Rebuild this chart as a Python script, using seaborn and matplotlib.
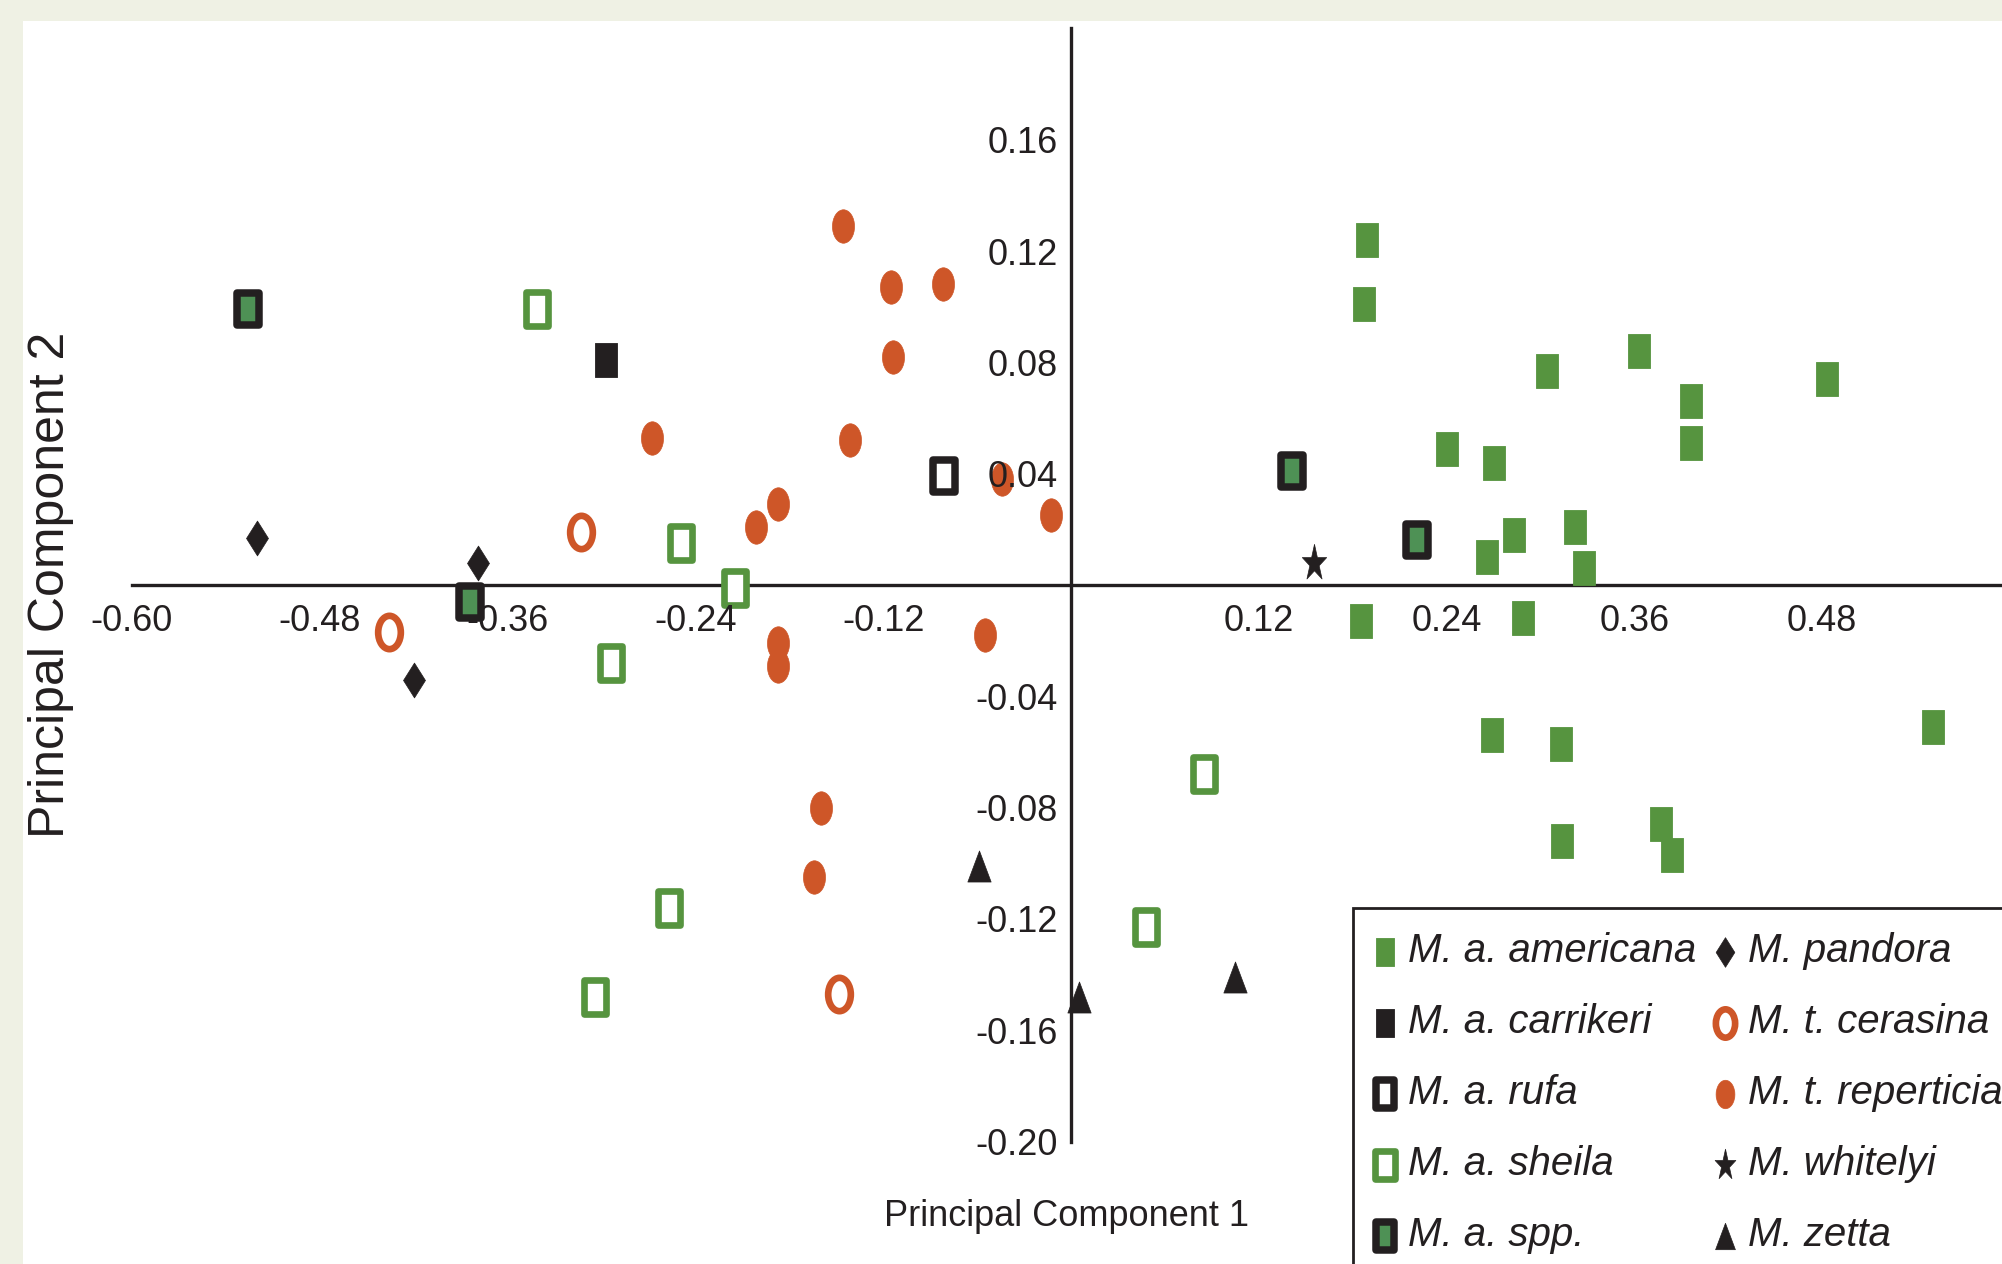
import numpy as np
import matplotlib
matplotlib.use("Agg")
import matplotlib.pyplot as plt
import seaborn as sns
from matplotlib.path import Path
from matplotlib.transforms import Affine2D
from matplotlib.patches import Rectangle
from matplotlib.font_manager import FontProperties

# -------------------------------
# PCA scores
# -------------------------------
americana_x = [0.189, 0.187, 0.304, 0.363, 0.396, 0.396, 0.483, 0.240, 0.270, 0.283, 0.322,
               0.266, 0.328, 0.185, 0.289, 0.269, 0.313, 0.314, 0.377, 0.384, 0.551]
americana_y = [0.124, 0.101, 0.077, 0.084, 0.066, 0.051, 0.074, 0.049, 0.044, 0.018, 0.021,
               0.010, 0.006, -0.013, -0.012, -0.054, -0.057, -0.092, -0.086, -0.097, -0.051]
carrikeri_x = [-0.297]
carrikeri_y = [0.081]
rufa_x = [-0.081]
rufa_y = [0.039]
sheila_x = [-0.341, -0.249, -0.215, -0.294, -0.257, -0.304, 0.085, 0.048]
sheila_y = [0.099, 0.015, -0.001, -0.028, -0.116, -0.148, -0.068, -0.123]
spp_x = [-0.526, -0.384, 0.141, 0.221]
spp_y = [0.099, -0.006, 0.041, 0.016]
pandora_x = [-0.520, -0.379, -0.420]
pandora_y = [0.017, 0.008, -0.034]
cerasina_x = [-0.313, -0.436, -0.148]
cerasina_y = [0.019, -0.017, -0.147]
reperticia_x = [-0.146, -0.115, -0.082, -0.114, -0.141, -0.187, -0.201, -0.044,
                -0.013, -0.187, -0.187, -0.055, -0.268, -0.160, -0.164]
reperticia_y = [0.129, 0.107, 0.108, 0.082, 0.052, 0.029, 0.021, 0.038,
                0.025, -0.021, -0.029, -0.018, 0.053, -0.080, -0.105]
whitelyi_x = [0.155]
whitelyi_y = [0.008]
zetta_x = [-0.059, 0.005, 0.105]
zetta_y = [-0.101, -0.148, -0.141]

x_ticks = [-0.60, -0.48, -0.36, -0.24, -0.12, 0.12, 0.24, 0.36, 0.48]
x_tick_labels = ["-0.60", "-0.48", "-0.36", "-0.24", "-0.12", "0.12", "0.24", "0.36", "0.48"]
y_ticks = [-0.20, -0.16, -0.12, -0.08, -0.04, 0.04, 0.08, 0.12, 0.16]
y_tick_labels = ["-0.20", "-0.16", "-0.12", "-0.08", "-0.04", "0.04", "0.08", "0.12", "0.16"]

GREEN = "#56943f"
SPP_GREEN = "#4e9155"
BLACK = "#231f20"
ORANGE = "#ce5628"
BEIGE = "#eff1e4"

# -------------------------------
# Tall (stretched) marker shapes
# -------------------------------
def rect_marker(a):
    v = [(-a, -1), (a, -1), (a, 1), (-a, 1), (-a, -1)]
    return Path(v, closed=True)

def ellipse_marker(a):
    return Path.unit_circle().transformed(Affine2D().scale(a, 1))

def diamond_marker(a):
    v = [(0, 1), (a, 0), (0, -1), (-a, 0), (0, 1)]
    return Path(v, closed=True)

def triangle_marker(a):
    v = [(0, 1), (-a, -1), (a, -1), (0, 1)]
    return Path(v, closed=True)

def star_marker(a):
    ang = np.deg2rad(90 + 36 * np.arange(10))
    rad = np.where(np.arange(10) % 2 == 0, 1.0, 0.382)
    v = list(zip(a * rad * np.cos(ang), rad * np.sin(ang)))
    v.append(v[0])
    return Path(v, closed=True)

sns.set_style("white")
sans = ["Liberation Sans", "DejaVu Sans"]
tick_font = FontProperties(family=sans, size=26)
xlabel_font = FontProperties(family=sans, size=26)
ylabel_font = FontProperties(family=sans, size=36)
legend_font = FontProperties(family=sans, style="italic", size=29)

W, H = 2002, 1264
fig = plt.figure(figsize=(W / 100, H / 100), dpi=100, facecolor=BEIGE)
fig.patches.append(Rectangle((23 / W, 0), 1, 1 - 21 / H, transform=fig.transFigure,
                             facecolor="white", edgecolor="none", zorder=-1))
ax = fig.add_axes([0, 0, 1, 1])
ax.set_facecolor("none")

# data -> pixel: x_px = 1071 + 1565*x, y_px(top) = 585 - 2783*y
ax.set_xlim(-1071 / 1565, (W - 1071) / 1565)
ax.set_ylim((585 - H) / 2783, 585 / 2783)

groups = [
    ("M. a. americana", americana_x, americana_y, rect_marker(0.65), 600, GREEN, GREEN, 0.6),
    ("M. a. carrikeri", carrikeri_x, carrikeri_y, rect_marker(0.65), 600, BLACK, BLACK, 0.6),
    ("M. a. rufa", rufa_x, rufa_y, rect_marker(0.68), 540, "white", BLACK, 5.4),
    ("M. a. sheila", sheila_x, sheila_y, rect_marker(0.68), 575, "white", GREEN, 4.8),
    ("M. a. spp.", spp_x, spp_y, rect_marker(0.68), 540, SPP_GREEN, BLACK, 5.4),
    ("M. pandora", pandora_x, pandora_y, diamond_marker(0.63), 630, BLACK, BLACK, 0.5),
    ("M. t. cerasina", cerasina_x, cerasina_y, ellipse_marker(0.68), 575, "white", ORANGE, 4.8),
    ("M. t. reperticia", reperticia_x, reperticia_y, ellipse_marker(0.66), 580, ORANGE, ORANGE, 0.5),
    ("M. whitelyi", whitelyi_x, whitelyi_y, star_marker(0.67), 760, BLACK, BLACK, 0.5),
    ("M. zetta", zetta_x, zetta_y, triangle_marker(0.75), 500, BLACK, BLACK, 0.5),
]

for name, gx, gy, mk, size, face, edge, lw in groups:
    sns.scatterplot(x=gx, y=gy, marker=mk, s=size, color=face, edgecolor=edge,
                    linewidth=lw, label=name, ax=ax, zorder=3)

# axes crossing at the origin
for side in ["top", "right"]:
    ax.spines[side].set_visible(False)
ax.spines["left"].set_position(("data", 0))
ax.spines["bottom"].set_position(("data", 0))
ax.spines["left"].set_bounds(-0.20, 0.20)
ax.spines["bottom"].set_bounds(-0.60, 0.60)
for side in ["left", "bottom"]:
    ax.spines[side].set_linewidth(2.4)
    ax.spines[side].set_color(BLACK)
    ax.spines[side].set_zorder(2)

ax.set_xticks(x_ticks)
ax.set_xticklabels(x_tick_labels, fontproperties=tick_font, color=BLACK)
ax.set_yticks(y_ticks)
ax.set_yticklabels(y_tick_labels, fontproperties=tick_font, color=BLACK)
ax.tick_params(axis="x", direction="out", length=8, width=1.6, color=BLACK, pad=6)
ax.tick_params(axis="y", direction="out", length=5.5, width=1.6, color=BLACK, pad=4)
ax.xaxis.set_zorder(4)
ax.yaxis.set_zorder(4)

ax.set_xlabel("Principal Component 1", fontproperties=xlabel_font, color=BLACK, va="center")
ax.xaxis.set_label_coords(1067 / W, 1 - 1216 / H)
ax.set_ylabel("Principal Component 2", fontproperties=ylabel_font, color=BLACK, va="center")
ax.yaxis.set_label_coords(51 / W, 1 - 585 / H)

leg = ax.legend(loc="upper left", bbox_to_anchor=(1353 / W, 1 - 908 / H),
                bbox_transform=fig.transFigure, ncol=2, prop=legend_font,
                frameon=True, fancybox=False, framealpha=1, edgecolor=BLACK,
                borderaxespad=0, borderpad=0.6, handlelength=0.39, handletextpad=0.38,
                labelspacing=0.82, columnspacing=0.52, markerscale=0.85, scatterpoints=1)
leg.get_frame().set_linewidth(2.0)
leg.set_zorder(5)
for t in leg.get_texts():
    t.set_color(BLACK)

fig.savefig("out.png", dpi=100, facecolor=BEIGE)
